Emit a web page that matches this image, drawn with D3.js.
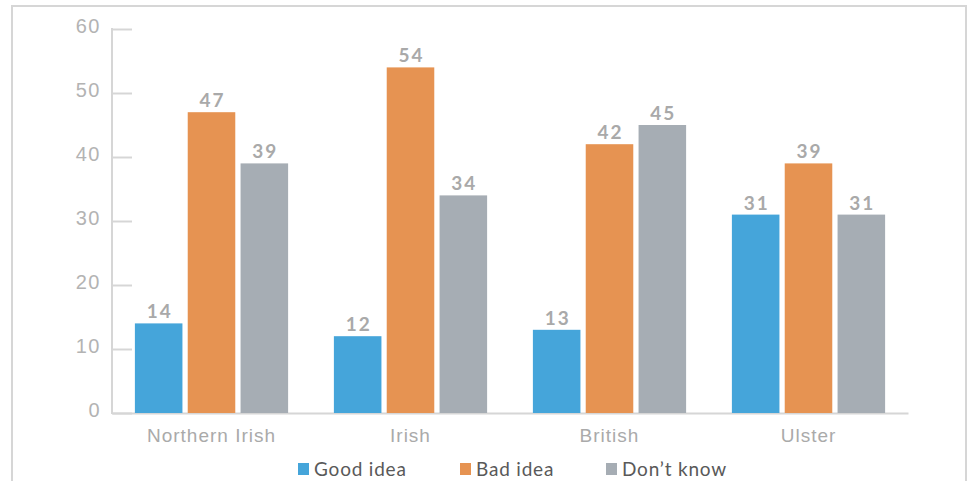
<!DOCTYPE html>
<html>
<head>
<meta charset="utf-8">
<script src="https://cdn.jsdelivr.net/npm/d3@7"></script>
<style>
  body { margin: 0; background: #fff; }
  svg { display: block; font-family: Lato, "Open Sans", sans-serif; }
</style>
</head>
<body>
<div id="chart"></div>
<script>
var categories = ['Northern Irish', 'Irish', 'British', 'Ulster'];
var seriesNames = ['Good idea', 'Bad idea', 'Don\u2019t know'];
var goodIdea = [14, 12, 13, 31];
var badIdea = [47, 54, 42, 39];
var dontKnow = [39, 34, 45, 31];
var yTicks = [0, 10, 20, 30, 40, 50, 60];
var colors = ['#45a5da', '#e69352', '#a6adb4'];

var width = 971, height = 481;
var margin = {left: 112, right: 63, top: 29, bottom: 68};

var svg = d3.select('#chart').append('svg')
    .attr('width', width)
    .attr('height', height);

// outer frame
svg.append('path')
    .attr('d', 'M12,490V6H966V490')
    .attr('fill', 'none')
    .attr('stroke', '#d6d6d6')
    .attr('stroke-width', 2);

var x0 = d3.scaleBand()
    .domain(categories)
    .range([margin.left, width - margin.right])
    .paddingInner(0.23)
    .paddingOuter(0.115);

var x1 = d3.scaleBand()
    .domain(seriesNames)
    .range([0, x0.bandwidth()])
    .paddingInner(0.1);

var y = d3.scaleLinear()
    .domain([0, 60])
    .range([height - margin.bottom, margin.top]);

var rows = categories.map(function(c, i) {
  return {cat: c, values: [goodIdea[i], badIdea[i], dontKnow[i]]};
});

// y axis
var yAxis = svg.append('g')
    .attr('transform', 'translate(' + margin.left + ',0)')
    .call(d3.axisRight(y).tickValues(yTicks).tickSize(20).tickFormat(d3.format('d')));
yAxis.select('.domain').remove();
yAxis.selectAll('.tick line').attr('stroke', '#d6d6d6').attr('stroke-width', 2);
yAxis.selectAll('.tick text')
    .attr('x', -11)
    .attr('dy', '0.17em')
    .attr('text-anchor', 'end')
    .attr('fill', '#b3b3b3')
    .attr('font-size', 20)
    .attr('letter-spacing', 1.5);
svg.append('line')
    .attr('x1', margin.left).attr('x2', margin.left)
    .attr('y1', y(60) - 1).attr('y2', y(0) + 1)
    .attr('stroke', '#d6d6d6').attr('stroke-width', 2);

// x axis
var xAxis = svg.append('g')
    .attr('transform', 'translate(0,' + y(0) + ')')
    .call(d3.axisBottom(x0).tickSize(0).tickPadding(16));
xAxis.select('.domain').attr('stroke', '#d6d6d6').attr('stroke-width', 2);
xAxis.selectAll('.tick text')
    .attr('fill', '#aaaaaa')
    .attr('font-size', 19)
    .attr('letter-spacing', 1);

// bars
var groups = svg.selectAll('.grp')
    .data(rows)
    .enter().append('g')
    .attr('class', 'grp')
    .attr('transform', function(d) { return 'translate(' + x0(d.cat) + ',0)'; });

groups.selectAll('rect')
    .data(function(d) { return d.values.map(function(v, i) { return {name: seriesNames[i], v: v, i: i}; }); })
    .enter().append('rect')
    .attr('x', function(d) { return x1(d.name); })
    .attr('y', function(d) { return y(d.v); })
    .attr('width', x1.bandwidth())
    .attr('height', function(d) { return y(0) - y(d.v); })
    .attr('fill', function(d) { return colors[d.i]; });

groups.selectAll('text.val')
    .data(function(d) { return d.values.map(function(v, i) { return {name: seriesNames[i], v: v}; }); })
    .enter().append('text')
    .attr('class', 'val')
    .attr('x', function(d) { return x1(d.name) + x1.bandwidth() / 2 + 1; })
    .attr('y', function(d) { return y(d.v) - 5; })
    .attr('text-anchor', 'middle')
    .attr('fill', '#a9a9a9')
    .attr('font-size', 19)
    .attr('font-weight', 'bold')
    .attr('letter-spacing', 2)
    .text(function(d) { return d.v; });

// legend
var legendX = [298, 460, 606];
var legend = svg.selectAll('.leg')
    .data(seriesNames)
    .enter().append('g')
    .attr('class', 'leg')
    .attr('transform', function(d, i) { return 'translate(' + legendX[i] + ',463)'; });
legend.append('rect')
    .attr('width', 11).attr('height', 12)
    .attr('fill', function(d, i) { return colors[i]; });
legend.append('text')
    .attr('x', 16).attr('y', 13)
    .attr('fill', '#595959')
    .attr('font-size', 19)
    .attr('letter-spacing', 0.8)
    .text(function(d) { return d; });
</script>
</body>
</html>
